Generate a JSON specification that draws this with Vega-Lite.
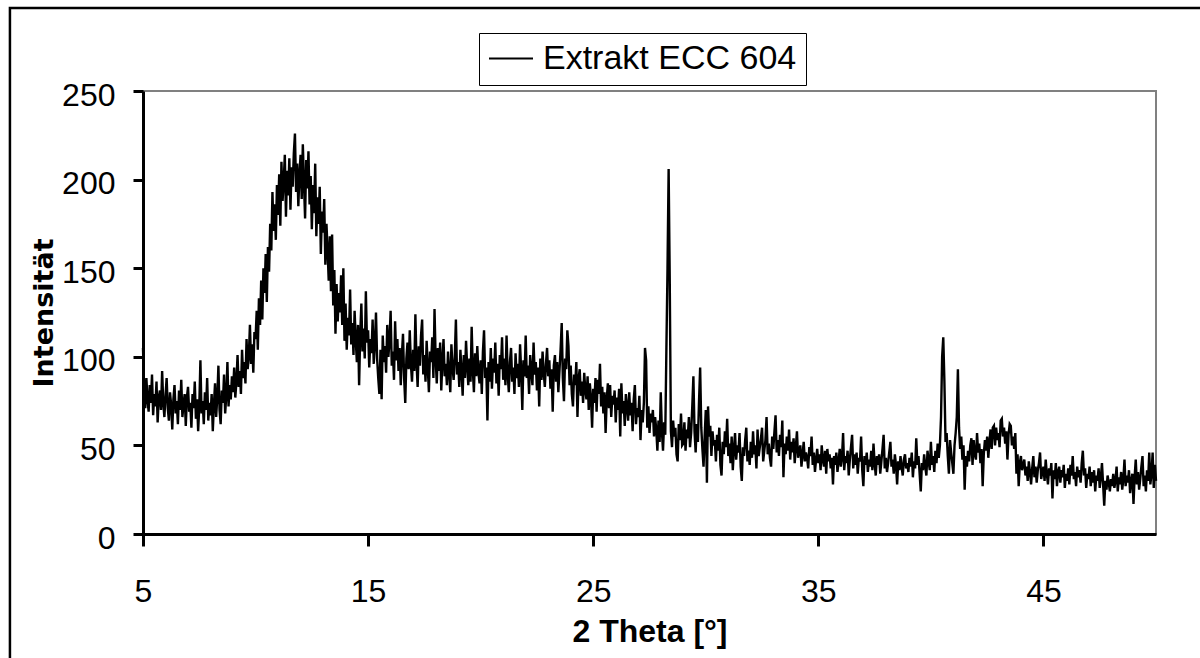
{
"$schema":"https://vega.github.io/schema/vega-lite/v6.json",
"width":1013,"height":443,
"autosize":{"type":"none"},
"padding":{"left":143,"top":91,"right":44,"bottom":124},
"background":"white",
"config":{
"view":{"stroke":"#808080","strokeWidth":2},
"axis":{"labelFont":"Liberation Sans","labelFontSize":32,"labelColor":"black","domainColor":"black","domainWidth":3,"tickColor":"black","tickWidth":3,"grid":false,"titleColor":"black","labelFlush":false},
"legend":{"orient":"none","legendX":336,"legendY":-58,"symbolType":"stroke","symbolSize":1936,"symbolStrokeWidth":2,"labelFont":"Liberation Sans","labelFontSize":34,"labelColor":"black","labelOffset":9,"labelLimit":500,"padding":9,"strokeColor":"black","clipHeight":33}
},
"layer":[
{"data":{"values":[
{"x":5,"y":105},{"x":5.05,"y":82},{"x":5.1,"y":71},{"x":5.15,"y":88},{"x":5.2,"y":76},{"x":5.25,"y":69},{"x":5.3,"y":84},{"x":5.35,"y":74},{"x":5.4,"y":90},{"x":5.45,"y":67},{"x":5.5,"y":79},{"x":5.55,"y":72},{"x":5.6,"y":86},{"x":5.65,"y":63},{"x":5.7,"y":77},{"x":5.75,"y":81},{"x":5.8,"y":70},{"x":5.85,"y":92},{"x":5.9,"y":74},{"x":5.95,"y":66},
{"x":6,"y":78},{"x":6.05,"y":88},{"x":6.1,"y":71},{"x":6.15,"y":64},{"x":6.2,"y":80},{"x":6.25,"y":73},{"x":6.3,"y":59},{"x":6.35,"y":76},{"x":6.4,"y":84},{"x":6.45,"y":68},{"x":6.5,"y":75},{"x":6.55,"y":62},{"x":6.6,"y":81},{"x":6.65,"y":70},{"x":6.7,"y":87},{"x":6.75,"y":66},{"x":6.8,"y":73},{"x":6.85,"y":79},{"x":6.9,"y":61},{"x":6.95,"y":77},
{"x":7,"y":83},{"x":7.05,"y":69},{"x":7.1,"y":74},{"x":7.15,"y":60},{"x":7.2,"y":79},{"x":7.25,"y":71},{"x":7.3,"y":86},{"x":7.35,"y":65},{"x":7.4,"y":76},{"x":7.45,"y":58},{"x":7.5,"y":72},{"x":7.55,"y":98},{"x":7.6,"y":68},{"x":7.65,"y":75},{"x":7.7,"y":62},{"x":7.75,"y":80},{"x":7.8,"y":70},{"x":7.85,"y":88},{"x":7.9,"y":64},{"x":7.95,"y":74},
{"x":8,"y":67},{"x":8.05,"y":79},{"x":8.1,"y":58},{"x":8.15,"y":73},{"x":8.2,"y":85},{"x":8.25,"y":66},{"x":8.3,"y":77},{"x":8.35,"y":95},{"x":8.4,"y":70},{"x":8.45,"y":62},{"x":8.5,"y":81},{"x":8.55,"y":74},{"x":8.6,"y":90},{"x":8.65,"y":68},{"x":8.7,"y":78},{"x":8.75,"y":97},{"x":8.8,"y":72},{"x":8.85,"y":84},{"x":8.9,"y":76},{"x":8.95,"y":89},
{"x":9,"y":80},{"x":9.05,"y":94},{"x":9.1,"y":77},{"x":9.15,"y":86},{"x":9.2,"y":101},{"x":9.25,"y":83},{"x":9.3,"y":92},{"x":9.35,"y":79},{"x":9.4,"y":104},{"x":9.45,"y":88},{"x":9.5,"y":97},{"x":9.55,"y":85},{"x":9.6,"y":110},{"x":9.65,"y":93},{"x":9.7,"y":100},{"x":9.75,"y":118},{"x":9.8,"y":96},{"x":9.85,"y":107},{"x":9.9,"y":91},{"x":9.95,"y":114},
{"x":10,"y":110},{"x":10.05,"y":126},{"x":10.1,"y":104},{"x":10.15,"y":133},{"x":10.2,"y":118},{"x":10.25,"y":143},{"x":10.3,"y":121},{"x":10.35,"y":150},{"x":10.4,"y":136},{"x":10.45,"y":158},{"x":10.5,"y":131},{"x":10.55,"y":162},{"x":10.6,"y":148},{"x":10.65,"y":175},{"x":10.7,"y":160},{"x":10.75,"y":193},{"x":10.8,"y":171},{"x":10.85,"y":186},{"x":10.9,"y":166},{"x":10.95,"y":197},
{"x":11,"y":180},{"x":11.05,"y":203},{"x":11.1,"y":174},{"x":11.15,"y":210},{"x":11.2,"y":188},{"x":11.25,"y":199},{"x":11.3,"y":214},{"x":11.35,"y":179},{"x":11.4,"y":205},{"x":11.45,"y":191},{"x":11.5,"y":212},{"x":11.55,"y":183},{"x":11.6,"y":207},{"x":11.65,"y":196},{"x":11.7,"y":215},{"x":11.75,"y":226},{"x":11.8,"y":193},{"x":11.85,"y":209},{"x":11.9,"y":185},{"x":11.95,"y":203},
{"x":12,"y":214},{"x":12.05,"y":189},{"x":12.1,"y":220},{"x":12.15,"y":198},{"x":12.2,"y":178},{"x":12.25,"y":211},{"x":12.3,"y":195},{"x":12.35,"y":216},{"x":12.4,"y":186},{"x":12.45,"y":202},{"x":12.5,"y":172},{"x":12.55,"y":197},{"x":12.6,"y":181},{"x":12.65,"y":209},{"x":12.7,"y":168},{"x":12.75,"y":190},{"x":12.8,"y":175},{"x":12.85,"y":196},{"x":12.9,"y":158},{"x":12.95,"y":182},
{"x":13,"y":170},{"x":13.05,"y":189},{"x":13.1,"y":152},{"x":13.15,"y":175},{"x":13.2,"y":160},{"x":13.25,"y":143},{"x":13.3,"y":168},{"x":13.35,"y":137},{"x":13.4,"y":169},{"x":13.45,"y":129},{"x":13.5,"y":149},{"x":13.55,"y":113},{"x":13.6,"y":141},{"x":13.65,"y":120},{"x":13.7,"y":136},{"x":13.75,"y":125},{"x":13.8,"y":146},{"x":13.85,"y":118},{"x":13.9,"y":150},{"x":13.95,"y":109},
{"x":14,"y":130},{"x":14.05,"y":104},{"x":14.1,"y":122},{"x":14.15,"y":112},{"x":14.2,"y":138},{"x":14.25,"y":107},{"x":14.3,"y":119},{"x":14.35,"y":101},{"x":14.4,"y":126},{"x":14.45,"y":110},{"x":14.5,"y":97},{"x":14.55,"y":118},{"x":14.6,"y":84},{"x":14.65,"y":113},{"x":14.7,"y":130},{"x":14.75,"y":103},{"x":14.8,"y":116},{"x":14.85,"y":99},{"x":14.9,"y":137},{"x":14.95,"y":108},
{"x":15,"y":115},{"x":15.05,"y":94},{"x":15.1,"y":110},{"x":15.15,"y":102},{"x":15.2,"y":121},{"x":15.25,"y":96},{"x":15.3,"y":107},{"x":15.35,"y":125},{"x":15.4,"y":99},{"x":15.45,"y":88},{"x":15.5,"y":79},{"x":15.55,"y":104},{"x":15.6,"y":76},{"x":15.65,"y":112},{"x":15.7,"y":97},{"x":15.75,"y":106},{"x":15.8,"y":91},{"x":15.85,"y":118},{"x":15.9,"y":100},{"x":15.95,"y":109},
{"x":16,"y":126},{"x":16.05,"y":95},{"x":16.1,"y":103},{"x":16.15,"y":87},{"x":16.2,"y":120},{"x":16.25,"y":98},{"x":16.3,"y":110},{"x":16.35,"y":92},{"x":16.4,"y":105},{"x":16.45,"y":84},{"x":16.5,"y":101},{"x":16.55,"y":113},{"x":16.6,"y":88},{"x":16.65,"y":74},{"x":16.7,"y":99},{"x":16.75,"y":108},{"x":16.8,"y":93},{"x":16.85,"y":115},{"x":16.9,"y":96},{"x":16.95,"y":86},
{"x":17,"y":104},{"x":17.05,"y":92},{"x":17.1,"y":124},{"x":17.15,"y":97},{"x":17.2,"y":83},{"x":17.25,"y":106},{"x":17.3,"y":95},{"x":17.35,"y":112},{"x":17.4,"y":121},{"x":17.45,"y":90},{"x":17.5,"y":101},{"x":17.55,"y":86},{"x":17.6,"y":109},{"x":17.65,"y":94},{"x":17.7,"y":80},{"x":17.75,"y":103},{"x":17.8,"y":97},{"x":17.85,"y":111},{"x":17.9,"y":88},{"x":17.95,"y":127},
{"x":18,"y":99},{"x":18.05,"y":85},{"x":18.1,"y":105},{"x":18.15,"y":92},{"x":18.2,"y":108},{"x":18.25,"y":81},{"x":18.3,"y":98},{"x":18.35,"y":110},{"x":18.4,"y":89},{"x":18.45,"y":96},{"x":18.5,"y":84},{"x":18.55,"y":103},{"x":18.6,"y":91},{"x":18.65,"y":80},{"x":18.7,"y":107},{"x":18.75,"y":94},{"x":18.8,"y":87},{"x":18.85,"y":100},{"x":18.9,"y":121},{"x":18.95,"y":90},
{"x":19,"y":97},{"x":19.05,"y":83},{"x":19.1,"y":104},{"x":19.15,"y":92},{"x":19.2,"y":78},{"x":19.25,"y":101},{"x":19.3,"y":88},{"x":19.35,"y":109},{"x":19.4,"y":95},{"x":19.45,"y":84},{"x":19.5,"y":99},{"x":19.55,"y":86},{"x":19.6,"y":117},{"x":19.65,"y":93},{"x":19.7,"y":80},{"x":19.75,"y":102},{"x":19.8,"y":89},{"x":19.85,"y":106},{"x":19.9,"y":91},{"x":19.95,"y":85},
{"x":20,"y":98},{"x":20.05,"y":79},{"x":20.1,"y":103},{"x":20.15,"y":115},{"x":20.2,"y":88},{"x":20.25,"y":94},{"x":20.3,"y":64},{"x":20.35,"y":97},{"x":20.4,"y":86},{"x":20.45,"y":105},{"x":20.5,"y":82},{"x":20.55,"y":99},{"x":20.6,"y":91},{"x":20.65,"y":108},{"x":20.7,"y":85},{"x":20.75,"y":96},{"x":20.8,"y":78},{"x":20.85,"y":101},{"x":20.9,"y":93},{"x":20.95,"y":111},
{"x":21,"y":87},{"x":21.05,"y":99},{"x":21.1,"y":84},{"x":21.15,"y":112},{"x":21.2,"y":90},{"x":21.25,"y":80},{"x":21.3,"y":97},{"x":21.35,"y":105},{"x":21.4,"y":86},{"x":21.45,"y":94},{"x":21.5,"y":79},{"x":21.55,"y":102},{"x":21.6,"y":88},{"x":21.65,"y":96},{"x":21.7,"y":83},{"x":21.75,"y":107},{"x":21.8,"y":92},{"x":21.85,"y":70},{"x":21.9,"y":98},{"x":21.95,"y":89},
{"x":22,"y":112},{"x":22.05,"y":88},{"x":22.1,"y":95},{"x":22.15,"y":79},{"x":22.2,"y":101},{"x":22.25,"y":92},{"x":22.3,"y":84},{"x":22.35,"y":108},{"x":22.4,"y":90},{"x":22.45,"y":97},{"x":22.5,"y":81},{"x":22.55,"y":94},{"x":22.6,"y":72},{"x":22.65,"y":99},{"x":22.7,"y":87},{"x":22.75,"y":103},{"x":22.8,"y":91},{"x":22.85,"y":83},{"x":22.9,"y":96},{"x":22.95,"y":105},
{"x":23,"y":89},{"x":23.05,"y":98},{"x":23.1,"y":82},{"x":23.15,"y":93},{"x":23.2,"y":69},{"x":23.25,"y":95},{"x":23.3,"y":101},{"x":23.35,"y":86},{"x":23.4,"y":97},{"x":23.45,"y":80},{"x":23.5,"y":92},{"x":23.55,"y":104},{"x":23.6,"y":119},{"x":23.65,"y":88},{"x":23.7,"y":75},{"x":23.75,"y":99},{"x":23.8,"y":93},{"x":23.85,"y":115},{"x":23.9,"y":106},{"x":23.95,"y":84},
{"x":24,"y":95},{"x":24.05,"y":79},{"x":24.1,"y":72},{"x":24.15,"y":90},{"x":24.2,"y":84},{"x":24.25,"y":97},{"x":24.3,"y":66},{"x":24.35,"y":88},{"x":24.4,"y":93},{"x":24.45,"y":78},{"x":24.5,"y":86},{"x":24.55,"y":74},{"x":24.6,"y":91},{"x":24.65,"y":81},{"x":24.7,"y":76},{"x":24.75,"y":89},{"x":24.8,"y":70},{"x":24.85,"y":85},{"x":24.9,"y":77},{"x":24.95,"y":60},
{"x":25,"y":82},{"x":25.05,"y":74},{"x":25.1,"y":88},{"x":25.15,"y":69},{"x":25.2,"y":87},{"x":25.25,"y":79},{"x":25.3,"y":96},{"x":25.35,"y":72},{"x":25.4,"y":83},{"x":25.45,"y":68},{"x":25.5,"y":80},{"x":25.55,"y":57},{"x":25.6,"y":76},{"x":25.65,"y":85},{"x":25.7,"y":71},{"x":25.75,"y":84},{"x":25.8,"y":66},{"x":25.85,"y":78},{"x":25.9,"y":73},{"x":25.95,"y":81},
{"x":26,"y":63},{"x":26.05,"y":77},{"x":26.1,"y":70},{"x":26.15,"y":82},{"x":26.2,"y":55},{"x":26.25,"y":85},{"x":26.3,"y":68},{"x":26.35,"y":75},{"x":26.4,"y":61},{"x":26.45,"y":79},{"x":26.5,"y":72},{"x":26.55,"y":64},{"x":26.6,"y":80},{"x":26.65,"y":67},{"x":26.7,"y":74},{"x":26.75,"y":58},{"x":26.8,"y":76},{"x":26.85,"y":84},{"x":26.9,"y":62},{"x":26.95,"y":71},
{"x":27,"y":66},{"x":27.05,"y":78},{"x":27.1,"y":53},{"x":27.15,"y":70},{"x":27.2,"y":63},{"x":27.25,"y":74},{"x":27.3,"y":105},{"x":27.35,"y":98},{"x":27.4,"y":60},{"x":27.45,"y":72},{"x":27.5,"y":57},{"x":27.55,"y":68},{"x":27.6,"y":63},{"x":27.65,"y":70},{"x":27.7,"y":55},{"x":27.75,"y":66},{"x":27.8,"y":59},{"x":27.85,"y":47},{"x":27.9,"y":64},{"x":27.95,"y":52},
{"x":28,"y":80},{"x":28.05,"y":58},{"x":28.1,"y":47},{"x":28.15,"y":63},{"x":28.2,"y":56},{"x":28.25,"y":104},{"x":28.3,"y":150},{"x":28.35,"y":206},{"x":28.4,"y":142},{"x":28.45,"y":58},{"x":28.5,"y":49},{"x":28.55,"y":64},{"x":28.6,"y":55},{"x":28.65,"y":60},{"x":28.7,"y":45},{"x":28.75,"y":41},{"x":28.8,"y":62},{"x":28.85,"y":53},{"x":28.9,"y":68},{"x":28.95,"y":50},
{"x":29,"y":51},{"x":29.05,"y":63},{"x":29.1,"y":47},{"x":29.15,"y":59},{"x":29.2,"y":54},{"x":29.25,"y":66},{"x":29.3,"y":49},{"x":29.35,"y":57},{"x":29.4,"y":72},{"x":29.45,"y":89},{"x":29.5,"y":58},{"x":29.55,"y":46},{"x":29.6,"y":62},{"x":29.65,"y":52},{"x":29.7,"y":75},{"x":29.75,"y":94},{"x":29.8,"y":60},{"x":29.85,"y":48},{"x":29.9,"y":38},{"x":29.95,"y":55},
{"x":30,"y":70},{"x":30.05,"y":29},{"x":30.1,"y":72},{"x":30.15,"y":55},{"x":30.2,"y":61},{"x":30.25,"y":44},{"x":30.3,"y":58},{"x":30.35,"y":50},{"x":30.4,"y":53},{"x":30.45,"y":41},{"x":30.5,"y":56},{"x":30.55,"y":47},{"x":30.6,"y":60},{"x":30.65,"y":39},{"x":30.7,"y":33},{"x":30.75,"y":52},{"x":30.8,"y":45},{"x":30.85,"y":58},{"x":30.9,"y":49},{"x":30.95,"y":65},
{"x":31,"y":44},{"x":31.05,"y":51},{"x":31.1,"y":40},{"x":31.15,"y":55},{"x":31.2,"y":36},{"x":31.25,"y":48},{"x":31.3,"y":57},{"x":31.35,"y":42},{"x":31.4,"y":50},{"x":31.45,"y":46},{"x":31.5,"y":57},{"x":31.55,"y":38},{"x":31.6,"y":30},{"x":31.65,"y":49},{"x":31.7,"y":44},{"x":31.75,"y":53},{"x":31.8,"y":60},{"x":31.85,"y":41},{"x":31.9,"y":47},{"x":31.95,"y":39},
{"x":32,"y":52},{"x":32.05,"y":43},{"x":32.1,"y":58},{"x":32.15,"y":45},{"x":32.2,"y":50},{"x":32.25,"y":37},{"x":32.3,"y":59},{"x":32.35,"y":44},{"x":32.4,"y":49},{"x":32.45,"y":54},{"x":32.5,"y":60},{"x":32.55,"y":41},{"x":32.6,"y":47},{"x":32.65,"y":53},{"x":32.7,"y":66},{"x":32.75,"y":45},{"x":32.8,"y":51},{"x":32.85,"y":43},{"x":32.9,"y":38},{"x":32.95,"y":55},
{"x":33,"y":48},{"x":33.05,"y":58},{"x":33.1,"y":67},{"x":33.15,"y":46},{"x":33.2,"y":53},{"x":33.25,"y":44},{"x":33.3,"y":56},{"x":33.35,"y":49},{"x":33.4,"y":64},{"x":33.45,"y":32},{"x":33.5,"y":51},{"x":33.55,"y":45},{"x":33.6,"y":55},{"x":33.65,"y":47},{"x":33.7,"y":59},{"x":33.75,"y":42},{"x":33.8,"y":52},{"x":33.85,"y":46},{"x":33.9,"y":54},{"x":33.95,"y":40},
{"x":34,"y":49},{"x":34.05,"y":58},{"x":34.1,"y":43},{"x":34.15,"y":47},{"x":34.2,"y":50},{"x":34.25,"y":38},{"x":34.3,"y":45},{"x":34.35,"y":52},{"x":34.4,"y":41},{"x":34.45,"y":46},{"x":34.5,"y":43},{"x":34.55,"y":37},{"x":34.6,"y":49},{"x":34.65,"y":44},{"x":34.7,"y":55},{"x":34.75,"y":39},{"x":34.8,"y":46},{"x":34.85,"y":35},{"x":34.9,"y":42},{"x":34.95,"y":48},
{"x":35,"y":40},{"x":35.05,"y":45},{"x":35.1,"y":36},{"x":35.15,"y":50},{"x":35.2,"y":42},{"x":35.25,"y":38},{"x":35.3,"y":47},{"x":35.35,"y":34},{"x":35.4,"y":48},{"x":35.45,"y":41},{"x":35.5,"y":45},{"x":35.55,"y":37},{"x":35.6,"y":43},{"x":35.65,"y":28},{"x":35.7,"y":44},{"x":35.75,"y":39},{"x":35.8,"y":46},{"x":35.85,"y":35},{"x":35.9,"y":41},{"x":35.95,"y":48},
{"x":36,"y":38},{"x":36.05,"y":43},{"x":36.1,"y":57},{"x":36.15,"y":36},{"x":36.2,"y":44},{"x":36.25,"y":40},{"x":36.3,"y":47},{"x":36.35,"y":33},{"x":36.4,"y":42},{"x":36.45,"y":49},{"x":36.5,"y":56},{"x":36.55,"y":37},{"x":36.6,"y":45},{"x":36.65,"y":39},{"x":36.7,"y":46},{"x":36.75,"y":34},{"x":36.8,"y":43},{"x":36.85,"y":41},{"x":36.9,"y":55},{"x":36.95,"y":36},
{"x":37,"y":27},{"x":37.05,"y":44},{"x":37.1,"y":39},{"x":37.15,"y":46},{"x":37.2,"y":35},{"x":37.25,"y":42},{"x":37.3,"y":38},{"x":37.35,"y":47},{"x":37.4,"y":36},{"x":37.45,"y":51},{"x":37.5,"y":40},{"x":37.55,"y":33},{"x":37.6,"y":44},{"x":37.65,"y":39},{"x":37.7,"y":45},{"x":37.75,"y":34},{"x":37.8,"y":41},{"x":37.85,"y":48},{"x":37.9,"y":56},{"x":37.95,"y":37},
{"x":38,"y":43},{"x":38.05,"y":35},{"x":38.1,"y":40},{"x":38.15,"y":46},{"x":38.2,"y":52},{"x":38.25,"y":38},{"x":38.3,"y":42},{"x":38.35,"y":34},{"x":38.4,"y":45},{"x":38.45,"y":39},{"x":38.5,"y":28},{"x":38.55,"y":41},{"x":38.6,"y":36},{"x":38.65,"y":44},{"x":38.7,"y":38},{"x":38.75,"y":33},{"x":38.8,"y":42},{"x":38.85,"y":45},{"x":38.9,"y":37},{"x":38.95,"y":40},
{"x":39,"y":35},{"x":39.05,"y":43},{"x":39.1,"y":38},{"x":39.15,"y":46},{"x":39.2,"y":32},{"x":39.25,"y":41},{"x":39.3,"y":37},{"x":39.35,"y":54},{"x":39.4,"y":39},{"x":39.45,"y":44},{"x":39.5,"y":34},{"x":39.55,"y":24},{"x":39.6,"y":40},{"x":39.65,"y":36},{"x":39.7,"y":45},{"x":39.75,"y":38},{"x":39.8,"y":33},{"x":39.85,"y":47},{"x":39.9,"y":41},{"x":39.95,"y":36},
{"x":40,"y":52},{"x":40.05,"y":39},{"x":40.1,"y":44},{"x":40.15,"y":35},{"x":40.2,"y":47},{"x":40.25,"y":40},{"x":40.3,"y":51},{"x":40.35,"y":43},{"x":40.4,"y":50},{"x":40.45,"y":66},{"x":40.5,"y":100},{"x":40.55,"y":111},{"x":40.6,"y":86},{"x":40.65,"y":52},{"x":40.7,"y":57},{"x":40.75,"y":44},{"x":40.8,"y":34},{"x":40.85,"y":53},{"x":40.9,"y":46},{"x":40.95,"y":40},
{"x":41,"y":34},{"x":41.05,"y":50},{"x":41.1,"y":57},{"x":41.15,"y":66},{"x":41.2,"y":93},{"x":41.25,"y":60},{"x":41.3,"y":48},{"x":41.35,"y":55},{"x":41.4,"y":42},{"x":41.45,"y":50},{"x":41.5,"y":25},{"x":41.55,"y":44},{"x":41.6,"y":38},{"x":41.65,"y":47},{"x":41.7,"y":41},{"x":41.75,"y":50},{"x":41.8,"y":54},{"x":41.85,"y":39},{"x":41.9,"y":53},{"x":41.95,"y":45},
{"x":42,"y":42},{"x":42.05,"y":57},{"x":42.1,"y":46},{"x":42.15,"y":51},{"x":42.2,"y":40},{"x":42.25,"y":48},{"x":42.3,"y":27},{"x":42.35,"y":45},{"x":42.4,"y":53},{"x":42.45,"y":47},{"x":42.5,"y":55},{"x":42.55,"y":43},{"x":42.6,"y":52},{"x":42.65,"y":59},{"x":42.7,"y":48},{"x":42.75,"y":60},{"x":42.8,"y":61},{"x":42.85,"y":50},{"x":42.9,"y":60},{"x":42.95,"y":53},
{"x":43,"y":57},{"x":43.05,"y":49},{"x":43.1,"y":64},{"x":43.15,"y":65},{"x":43.2,"y":55},{"x":43.25,"y":60},{"x":43.3,"y":51},{"x":43.35,"y":58},{"x":43.4,"y":42},{"x":43.45,"y":56},{"x":43.5,"y":62},{"x":43.55,"y":61},{"x":43.6,"y":50},{"x":43.65,"y":55},{"x":43.7,"y":48},{"x":43.75,"y":57},{"x":43.8,"y":34},{"x":43.85,"y":45},{"x":43.9,"y":27},{"x":43.95,"y":40},
{"x":44,"y":44},{"x":44.05,"y":36},{"x":44.1,"y":39},{"x":44.15,"y":42},{"x":44.2,"y":33},{"x":44.25,"y":38},{"x":44.3,"y":30},{"x":44.35,"y":41},{"x":44.4,"y":35},{"x":44.45,"y":28},{"x":44.5,"y":37},{"x":44.55,"y":44},{"x":44.6,"y":32},{"x":44.65,"y":38},{"x":44.7,"y":29},{"x":44.75,"y":36},{"x":44.8,"y":40},{"x":44.85,"y":46},{"x":44.9,"y":31},{"x":44.95,"y":35},
{"x":45,"y":38},{"x":45.05,"y":30},{"x":45.1,"y":42},{"x":45.15,"y":34},{"x":45.2,"y":28},{"x":45.25,"y":37},{"x":45.3,"y":33},{"x":45.35,"y":40},{"x":45.4,"y":20},{"x":45.45,"y":36},{"x":45.5,"y":31},{"x":45.55,"y":40},{"x":45.6,"y":27},{"x":45.65,"y":35},{"x":45.7,"y":38},{"x":45.75,"y":29},{"x":45.8,"y":36},{"x":45.85,"y":32},{"x":45.9,"y":39},{"x":45.95,"y":26},
{"x":46,"y":34},{"x":46.05,"y":30},{"x":46.1,"y":37},{"x":46.15,"y":28},{"x":46.2,"y":39},{"x":46.25,"y":33},{"x":46.3,"y":44},{"x":46.35,"y":31},{"x":46.4,"y":35},{"x":46.45,"y":27},{"x":46.5,"y":38},{"x":46.55,"y":32},{"x":46.6,"y":36},{"x":46.65,"y":29},{"x":46.7,"y":40},{"x":46.75,"y":47},{"x":46.8,"y":33},{"x":46.85,"y":37},{"x":46.9,"y":26},{"x":46.95,"y":34},
{"x":47,"y":31},{"x":47.05,"y":38},{"x":47.1,"y":27},{"x":47.15,"y":35},{"x":47.2,"y":29},{"x":47.25,"y":36},{"x":47.3,"y":24},{"x":47.35,"y":33},{"x":47.4,"y":30},{"x":47.45,"y":37},{"x":47.5,"y":26},{"x":47.55,"y":32},{"x":47.6,"y":40},{"x":47.65,"y":28},{"x":47.7,"y":16},{"x":47.75,"y":30},{"x":47.8,"y":25},{"x":47.85,"y":33},{"x":47.9,"y":29},{"x":47.95,"y":24},
{"x":48,"y":31},{"x":48.05,"y":27},{"x":48.1,"y":34},{"x":48.15,"y":26},{"x":48.2,"y":30},{"x":48.25,"y":38},{"x":48.3,"y":24},{"x":48.35,"y":32},{"x":48.4,"y":28},{"x":48.45,"y":35},{"x":48.5,"y":25},{"x":48.55,"y":31},{"x":48.6,"y":42},{"x":48.65,"y":27},{"x":48.7,"y":33},{"x":48.75,"y":29},{"x":48.8,"y":36},{"x":48.85,"y":23},{"x":48.9,"y":30},{"x":48.95,"y":34},
{"x":49,"y":17},{"x":49.05,"y":32},{"x":49.1,"y":42},{"x":49.15,"y":28},{"x":49.2,"y":35},{"x":49.25,"y":25},{"x":49.3,"y":31},{"x":49.35,"y":38},{"x":49.4,"y":44},{"x":49.45,"y":27},{"x":49.5,"y":33},{"x":49.55,"y":24},{"x":49.6,"y":36},{"x":49.65,"y":30},{"x":49.7,"y":46},{"x":49.75,"y":28},{"x":49.8,"y":34},{"x":49.85,"y":46},{"x":49.9,"y":26},{"x":49.95,"y":39},
{"x":50,"y":30}
]},
"mark":{"type":"line","strokeWidth":2.4},
"encoding":{
"x":{"field":"x","type":"quantitative","scale":{"domain":[5,50],"nice":false,"zero":false},
"axis":{"title":"2 Theta [°]","values":[5,15,25,35,45],"tickSize":12,"labelPadding":30,"titleFont":"Liberation Sans","titleFontSize":32,"titleFontWeight":"bold","titlePadding":9}},
"y":{"field":"y","type":"quantitative","scale":{"domain":[0,250],"nice":false},
"axis":{"title":"Intensität","values":[0,50,100,150,200,250],"tickSize":10,"labelPadding":18,"labelOffset":4,"titleFont":"DejaVu Sans","titleFontSize":27,"titleFontWeight":"bold","titlePadding":3}},
"color":{"datum":"Extrakt ECC 604","type":"nominal","scale":{"range":["black"]},"legend":{"title":null}}
}},
{"data":{"values":[{}]},
"mark":{"type":"rect","fillOpacity":0,"stroke":"black","strokeWidth":2.5,"clip":false},
"encoding":{"x":{"datum":-0.911,"type":"quantitative","scale":{"domain":[5,50],"nice":false,"zero":false},
"axis":{"title":"2 Theta [°]","values":[5,15,25,35,45],"tickSize":12,"labelPadding":30,"titleFont":"Liberation Sans","titleFontSize":32,"titleFontWeight":"bold","titlePadding":9}},
"x2":{"datum":52.4},
"y":{"datum":296.8,"type":"quantitative","scale":{"domain":[0,250],"nice":false},
"axis":{"title":"Intensität","values":[0,50,100,150,200,250],"tickSize":10,"labelPadding":18,"labelOffset":4,"titleFont":"DejaVu Sans","titleFontSize":27,"titleFontWeight":"bold","titlePadding":3}},
"y2":{"datum":-77}}}
]
}
